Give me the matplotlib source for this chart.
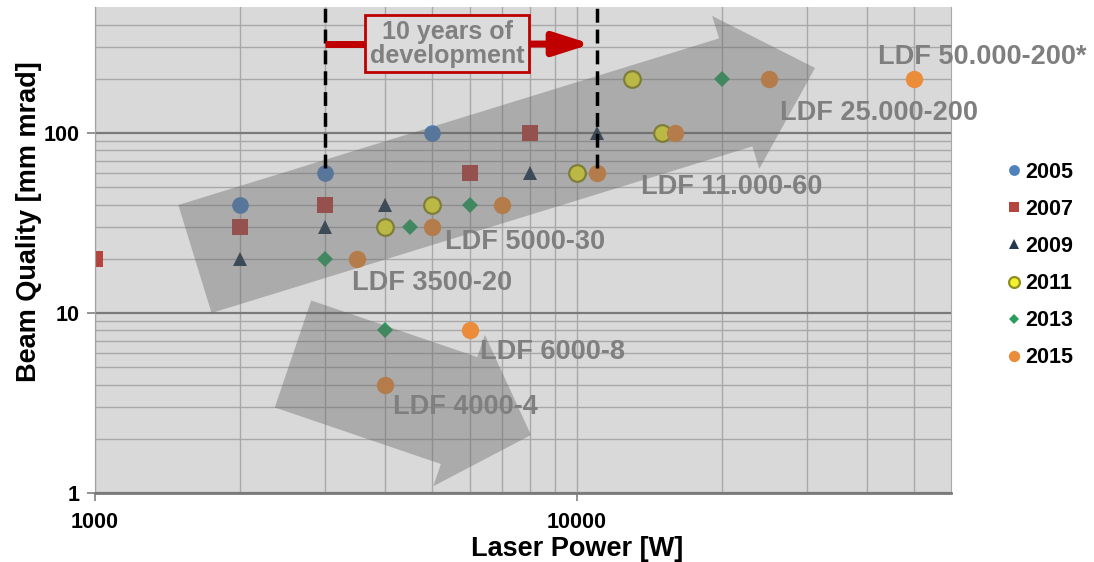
import numpy as np
import matplotlib
matplotlib.use("Agg")
import matplotlib.pyplot as plt
from matplotlib.patches import Polygon
from matplotlib.ticker import NullFormatter
from matplotlib.transforms import IdentityTransform

plt.rcParams["font.family"] = ["Liberation Sans", "DejaVu Sans"]
plt.rcParams["font.weight"] = "bold"

# data: laser power [W] and beam quality [mm mrad] per year
years = ["2005", "2007", "2009", "2011", "2013", "2015"]
power_2005 = [2000, 3000, 5000]
bq_2005 = [40, 60, 100]
power_2007 = [1000, 2000, 3000, 6000, 8000]
bq_2007 = [20, 30, 40, 60, 100]
power_2009 = [2000, 3000, 4000, 8000, 11000]
bq_2009 = [20, 30, 40, 60, 100]
power_2011 = [4000, 5000, 10000, 13000, 15000]
bq_2011 = [30, 40, 60, 200, 100]
power_2013 = [3000, 4000, 4500, 6000, 20000]
bq_2013 = [20, 8, 30, 40, 200]
power_2015 = [3500, 4000, 5000, 6000, 7000, 11000, 16000, 25000, 50000]
bq_2015 = [20, 4, 30, 8, 40, 60, 100, 200, 200]

product_labels = ["LDF 50.000-200*", "LDF 25.000-200", "LDF 11.000-60",
                  "LDF 5000-30", "LDF 3500-20", "LDF 6000-8", "LDF 4000-4"]
x_ticks = [1000, 10000]
y_ticks = [1, 10, 100]
dev_start, dev_end = 3000, 11000

# layout of annotations (data coords)
label_pos = [(42100, 264), (26400, 129), (13600, 50), (5320, 24.8),
             (3410, 14.7), (6290, 6.07), (4150, 3.0)]

series = [
    (power_2005, bq_2005, dict(marker="o", ms=12, color="#4f81bd", mew=0)),
    (power_2007, bq_2007, dict(marker="s", ms=12, color="#b5443f", mew=0)),
    (power_2009, bq_2009, dict(marker="^", ms=10.5, color="#22384f", mew=0)),
    (power_2011, bq_2011, dict(marker="o", ms=12, color="#f5f032", mec="#8f8f1e", mew=1.6)),
    (power_2013, bq_2013, dict(marker="D", ms=7.8, color="#2a9d5c", mew=0)),
    (power_2015, bq_2015, dict(marker="o", ms=12.5, color="#ea8c3a", mew=0)),
]

fig = plt.figure(figsize=(10.94, 5.62), dpi=100)
ax = fig.add_axes([95 / 1094, 1 - 493 / 562, 856 / 1094, 486 / 562])
ax.set_facecolor("#d9d9d9")
ax.set_xscale("log")
ax.set_yscale("log")
ax.set_xlim(1000, 59700)
ax.set_ylim(1, 501)

ax.set_xticks(x_ticks)
ax.set_xticklabels([str(t) for t in x_ticks])
ax.set_yticks(y_ticks)
ax.set_yticklabels([str(t) for t in y_ticks])
ax.set_xticks([k * 1000 for k in range(2, 10)] + [k * 10000 for k in range(2, 6)], minor=True)
ax.set_yticks([k for k in range(2, 10)] + [k * 10 for k in range(2, 10)] + [200, 300, 400], minor=True)
ax.xaxis.set_minor_formatter(NullFormatter())
ax.yaxis.set_minor_formatter(NullFormatter())
ax.tick_params(which="major", length=6, width=1.2, color="#808080", labelsize=15.5, pad=5)
ax.tick_params(axis="x", which="major", pad=8)
ax.tick_params(which="minor", length=0)

ax.grid(which="major", axis="y", color="#7a7a7a", lw=1.6)
ax.grid(which="minor", axis="y", color="#a8a8a8", lw=1.0)
ax.grid(which="both", axis="x", color="#a8a8a8", lw=1.0)
ax.set_axisbelow(True)

ax.spines["top"].set_visible(False)
ax.spines["right"].set_color("#a8a8a8")
ax.spines["left"].set_color("#a0a0a0")
ax.spines["bottom"].set_color("#7a7a7a")
ax.spines["bottom"].set_linewidth(2)

handles = []
for (px, py, style), year in zip(series, years):
    h, = ax.plot(px, py, linestyle="none", zorder=2.5, label=year, **style)
    handles.append(h)

ax.set_xlabel("Laser Power [W]", fontsize=19.5, fontweight="bold")
ax.set_ylabel("Beam Quality [mm mrad]", fontsize=19.5, fontweight="bold")
ax.xaxis.set_label_coords(0.563, -0.088)
ax.yaxis.set_label_coords(-0.062, 0.558)


def gray_arrow(tail, tip, half_w, head_half_w, head_len):
    p0 = ax.transData.transform(tail)
    p1 = ax.transData.transform(tip)
    d = p1 - p0
    u = d / np.hypot(*d)
    n = np.array([-u[1], u[0]])
    b = p1 - head_len * u
    pts = [p0 + half_w * n, b + half_w * n, b + head_half_w * n, p1,
           b - head_half_w * n, b - half_w * n, p0 - half_w * n]
    ax.add_patch(Polygon(pts, closed=True, transform=IdentityTransform(),
                         facecolor="#666666", alpha=0.4, edgecolor="none", zorder=3))


gray_arrow((1612, 19.95), (31180, 229.7), 56.5, 80, 83)
gray_arrow((2575, 5.92), (8028, 2.10), 56.5, 80, 76)

for text, (lx, ly) in zip(product_labels, label_pos):
    ax.text(lx, ly, text, ha="left", va="center", fontsize=19.5,
            fontweight="bold", color="#7f7f7f", zorder=4, clip_on=False)

ax.vlines([dev_start, dev_end], 64, 501, colors="black", lw=2.5,
          linestyles=[(0, (4, 2))], zorder=4.5)

ax.plot([dev_start, 3640], [312, 312], color="#c00000", lw=5, zorder=5,
        solid_capstyle="butt")
ax.annotate("", xy=(10700, 312), xytext=(7950, 312),
            arrowprops=dict(arrowstyle="-|>,head_length=1.1,head_width=0.35",
                            color="#c00000", lw=5, shrinkA=0, shrinkB=0,
                            mutation_scale=20),
            zorder=5)
ax.text(5375, 314, "10 years of\ndevelopment", ha="center", va="center",
        fontsize=18, fontweight="bold", color="#808080", linespacing=1.0,
        zorder=6, bbox=dict(boxstyle="square,pad=0.18", fc="#dcdcdc",
                            ec="#c00000", lw=2))

ax.legend(handles=handles, loc="center left",
          bbox_to_anchor=(1006 / 1094, 1 - 265 / 562),
          bbox_transform=fig.transFigure, frameon=False, fontsize=15.5,
          markerscale=0.65, handlelength=0.7, handletextpad=0.2,
          labelspacing=0.75, borderaxespad=0, borderpad=0)

fig.savefig("out.png", dpi=100)
